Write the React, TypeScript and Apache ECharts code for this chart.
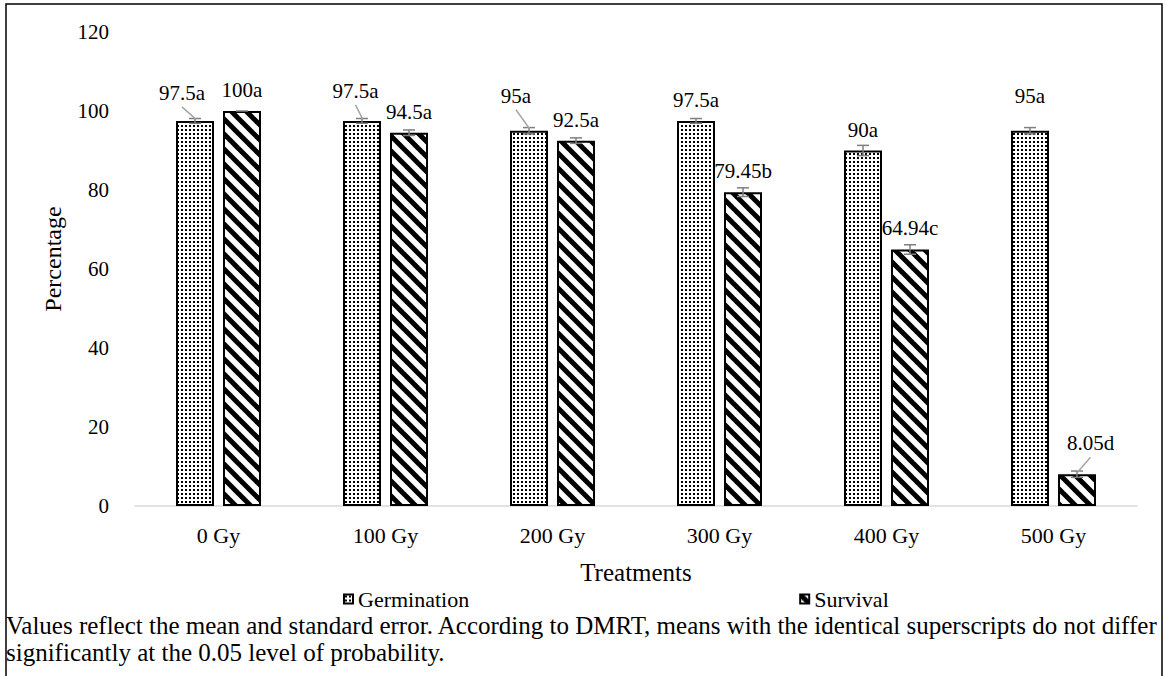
import React, { useEffect, useRef } from 'react';
import * as echarts from 'echarts';

const categories = ['0 Gy', '100 Gy', '200 Gy', '300 Gy', '400 Gy', '500 Gy'];
const germination = [97.5, 97.5, 95, 97.5, 90, 95];
const survival = [100, 94.5, 92.5, 79.45, 64.94, 8.05];
const germinationSE = [0.6, 0.6, 0.8, 0.6, 1.3, 0.8];
const survivalSE = [0, 0.7, 0.7, 1.1, 1.2, 0.8];
const germinationLetters = ['a', 'a', 'a', 'a', 'a', 'a'];
const survivalLetters = ['a', 'a', 'a', 'b', 'c', 'd'];
const yMin = 0;
const yMax = 120;
const yInterval = 20;
const seriesNames = ['Germination', 'Survival'];
const xTitle = 'Treatments';
const yTitle = 'Percentage';
const footnoteLines = [
  'Values reflect the mean and standard error. According to DMRT, means with the identical superscripts do not differ',
  'significantly at the 0.05 level of probability.',
];

// label placement (style only): [dx, dy, leader line 1/0]
const germLabelShift: (number[] | null)[] = [[-13, -28, 1], [-6.5, -30, 1], [-13, -35, 1], null, null, [0, -35, 0]];
const survLabelShift: (number[] | null)[] = [null, null, null, null, null, [13.5, -31, 1]];

const FONT = 'Liberation Serif';
const BAR_W = 38;
const BAR_GAP_PX = 9;
const HALF_OFF = (BAR_W + BAR_GAP_PX) / 2;

function dotPattern() {
  const c = document.createElement('canvas');
  c.width = 4;
  c.height = 4;
  const g = c.getContext('2d')!;
  g.fillStyle = '#fff';
  g.fillRect(0, 0, 4, 4);
  g.fillStyle = '#000';
  g.fillRect(1, 1, 2, 2);
  return { image: c, repeat: 'repeat', imageWidth: 4, imageHeight: 4 } as any;
}

function stripePattern() {
  const P = 15;
  const c = document.createElement('canvas');
  c.width = P;
  c.height = P;
  const g = c.getContext('2d')!;
  g.fillStyle = '#fff';
  g.fillRect(0, 0, P, P);
  g.strokeStyle = '#000';
  g.lineWidth = 5;
  for (const off of [-P, 0, P]) {
    g.beginPath();
    g.moveTo(off - 3, -3);
    g.lineTo(off + P + 3, P + 3);
    g.stroke();
  }
  return { image: c, repeat: 'repeat', imageWidth: P, imageHeight: P } as any;
}

export default function App() {
  const ref = useRef<HTMLDivElement>(null);

  useEffect(() => {
    document.body.style.margin = '0';
    if (!ref.current) return;
    const chart = echarts.init(ref.current, null, { renderer: 'svg' });

    const errData: any[] = [];
    categories.forEach((_, i) => {
      errData.push([i, germination[i], germinationSE[i], 0, germinationLetters[i]]);
      errData.push([i, survival[i], survivalSE[i], 1, survivalLetters[i]]);
    });

    const option: any = {
      animation: false,
      textStyle: { fontFamily: FONT, color: '#000' },
      grid: { left: 135, right: 29, top: 32, bottom: 170, containLabel: false },
      legend: {
        data: seriesNames,
        left: 338,
        top: 583,
        itemWidth: 9,
        itemHeight: 9,
        itemGap: 330,
        icon: 'rect',
        textStyle: { fontFamily: FONT, fontSize: 22, lineHeight: 18, color: '#000' },
      },
      xAxis: {
        type: 'category',
        data: categories,
        name: xTitle,
        nameLocation: 'middle',
        nameGap: 54,
        nameTextStyle: { fontFamily: FONT, fontSize: 25, color: '#000' },
        axisLine: { lineStyle: { color: '#d9d9d9', width: 1.5 } },
        axisTick: { show: false },
        axisLabel: { fontFamily: FONT, fontSize: 22, color: '#000', margin: 18 },
      },
      yAxis: {
        type: 'value',
        min: yMin,
        max: yMax,
        interval: yInterval,
        axisLine: { show: false },
        axisTick: { show: false },
        splitLine: { show: false },
        axisLabel: { fontFamily: FONT, fontSize: 21, color: '#000', margin: 26 },
      },
      series: [
        {
          name: seriesNames[0],
          type: 'bar',
          data: germination,
          barWidth: BAR_W,
          barGap: (BAR_GAP_PX / BAR_W) * 100 + '%',
          itemStyle: { color: dotPattern(), borderColor: '#000', borderWidth: 2 },
        },
        {
          name: seriesNames[1],
          type: 'bar',
          data: survival,
          barWidth: BAR_W,
          itemStyle: { color: stripePattern(), borderColor: '#000', borderWidth: 2 },
        },
        {
          type: 'custom',
          name: 'errors',
          data: errData,
          z: 10,
          encode: { x: 0, y: 1 },
          renderItem: (params: any, api: any) => {
            const ci = api.value(0);
            const val = api.value(1);
            const se = api.value(2);
            const which = api.value(3);
            const letter = errData[params.dataIndex][4];
            const c = api.coord([ci, val]);
            const x = c[0] + (which === 0 ? -HALF_OFF : HALF_OFF);
            const topY = c[1];
            const hi = api.coord([ci, val + se])[1];
            const lo = api.coord([ci, val - se])[1];
            const lineStyle = { stroke: '#7f7f7f', lineWidth: 1.5, fill: 'none' };
            const children: any[] = [];
            if (se > 0) {
              children.push(
                { type: 'line', shape: { x1: x, y1: hi, x2: x, y2: lo }, style: lineStyle },
                { type: 'line', shape: { x1: x - 6, y1: hi, x2: x + 6, y2: hi }, style: lineStyle },
                { type: 'line', shape: { x1: x - 6, y1: lo, x2: x + 6, y2: lo }, style: lineStyle }
              );
            } else {
              children.push({ type: 'line', shape: { x1: x - 6, y1: topY, x2: x + 6, y2: topY }, style: lineStyle });
            }
            const shift = which === 0 ? germLabelShift[ci] : survLabelShift[ci];
            const dx = shift ? shift[0] : 0;
            const dy = shift ? shift[1] : -21;
            const lx = x + dx;
            const ly = topY + dy;
            if (shift && shift[2]) {
              children.push({
                type: 'line',
                shape: { x1: lx, y1: ly + 14, x2: x + 0.5, y2: topY - 2 },
                style: { stroke: '#a6a6a6', lineWidth: 1.5, fill: 'none' },
              });
            }
            children.push({
              type: 'text',
              x: lx,
              y: ly,
              style: {
                text: String(val) + letter,
                fill: '#000',
                fontFamily: FONT,
                fontSize: 21,
                align: 'center',
                verticalAlign: 'middle',
              },
            });
            return { type: 'group', children };
          },
        },
      ],
      graphic: [
        {
          type: 'rect',
          silent: true,
          shape: { x: 6, y: 4, width: 1156, height: 720 },
          style: { fill: 'none', stroke: '#000', lineWidth: 1.5 },
        },
        {
          type: 'text',
          x: 53,
          y: 259,
          rotation: Math.PI / 2,
          style: { text: yTitle, fill: '#000', fontFamily: FONT, fontSize: 24, align: 'center', verticalAlign: 'middle' },
        },
        {
          type: 'text',
          x: 6,
          y: 625,
          style: { text: footnoteLines[0], fill: '#000', fontFamily: FONT, fontSize: 25, verticalAlign: 'middle' },
        },
        {
          type: 'text',
          x: 6,
          y: 652,
          style: { text: footnoteLines[1], fill: '#000', fontFamily: FONT, fontSize: 25, verticalAlign: 'middle' },
        },
      ],
    };

    chart.setOption(option);
    return () => chart.dispose();
  }, []);

  return <div ref={ref} style={{ width: 1166, height: 676 }} />;
}
